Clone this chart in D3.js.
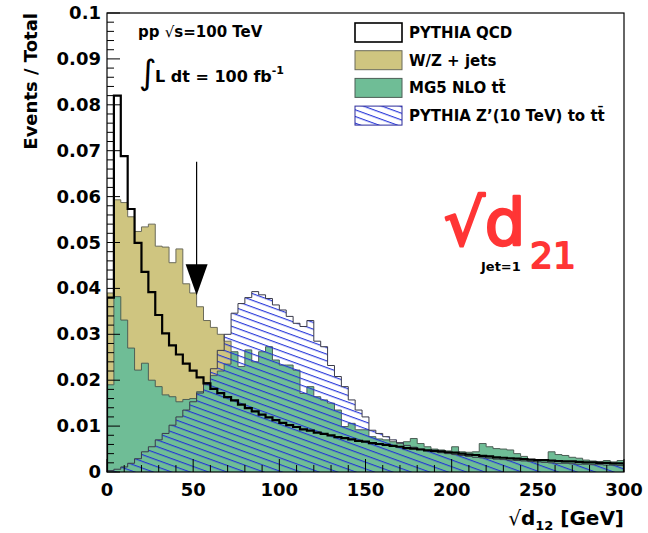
<!DOCTYPE html>
<html>
<head>
<meta charset="utf-8">
<script src="https://cdn.jsdelivr.net/npm/d3@7"></script>
<style>
  body { margin: 0; background: #fff; }
  svg { display: block; }
</style>
</head>
<body>
<svg id="chart" width="648" height="533" font-family="DejaVu Sans, sans-serif" font-weight="bold"></svg>
<script>
// 4 GeV bins from 0 to 300 GeV
var binWidth = 4;

var qcd = [0.0380,0.0820,0.0688,0.0573,0.0499,0.0436,0.0392,0.0342,0.0302,0.0276,
  0.0256,0.0236,0.0221,0.0206,0.0193,0.0181,0.0172,0.0163,0.0156,0.0147,
  0.0139,0.0132,0.0125,0.0119,0.0113,0.0107,0.0102,0.0098,0.0093,0.0090,
  0.0086,0.0083,0.0080,0.0076,0.0074,0.0071,0.0068,0.0066,0.0063,0.0061,
  0.0059,0.0057,0.0055,0.0052,0.0051,0.0049,0.0047,0.0046,0.0045,0.0043,
  0.0042,0.0040,0.0038,0.0037,0.0035,0.0034,0.0032,0.0031,0.0030,0.0029,
  0.0028,0.0027,0.0026,0.0026,0.0025,0.0024,0.0023,0.0023,0.0022,0.0021,
  0.0021,0.0020,0.0020,0.0019,0.0019];

var wz = [0.0390,0.0593,0.0587,0.0556,0.0524,0.0534,0.0540,0.0492,0.0490,0.0456,
  0.0486,0.0410,0.0390,0.0360,0.0330,0.0315,0.0300,0.0285,0.0220,0.0190,
  0.0170,0.0150,0.0130,0.0120,0.0110,0.0100,0.0090,0.0080,0.0075,0.0070,
  0.0065,0.0060,0.0056,0.0052,0.0048,0.0045,0.0042,0.0039,0.0036,0.0034,
  0.0032,0.0030,0.0028,0.0026,0.0025,0.0023,0.0022,0.0021,0.0020,0.0019,
  0.0018,0.0017,0.0016,0.0015,0.0015,0.0014,0.0013,0.0013,0.0012,0.0012,
  0.0011,0.0011,0.0010,0.0010,0.0010,0.0009,0.0009,0.0009,0.0008,0.0008,
  0.0008,0.0007,0.0007,0.0007,0.0007];

var ttbar = [0.0190,0.0382,0.0331,0.0270,0.0222,0.0237,0.0200,0.0186,0.0168,0.0164,
  0.0153,0.0158,0.0160,0.0175,0.0190,0.0210,0.0220,0.0235,0.0262,0.0230,
  0.0266,0.0240,0.0262,0.0273,0.0244,0.0233,0.0233,0.0222,0.0171,0.0186,
  0.0164,0.0157,0.0150,0.0135,0.0099,0.0106,0.0092,0.0092,0.0077,0.0072,
  0.0070,0.0066,0.0062,0.0066,0.0073,0.0062,0.0055,0.0050,0.0048,0.0046,
  0.0055,0.0044,0.0043,0.0044,0.0062,0.0055,0.0051,0.0050,0.0048,0.0040,
  0.0034,0.0027,0.0026,0.0026,0.0044,0.0038,0.0036,0.0032,0.0030,0.0026,
  0.0024,0.0023,0.0025,0.0022,0.0025];

var zprime = [0.0003,0.0006,0.0011,0.0019,0.0029,0.0044,0.0055,0.0070,0.0084,0.0102,
  0.0120,0.0135,0.0153,0.0172,0.0195,0.0225,0.0265,0.0300,0.0346,0.0367,
  0.0380,0.0393,0.0386,0.0378,0.0364,0.0353,0.0339,0.0324,0.0317,0.0330,
  0.0285,0.0273,0.0232,0.0208,0.0186,0.0157,0.0135,0.0120,0.0091,0.0084,
  0.0077,0.0070,0.0064,0.0058,0.0054,0.0050,0.0047,0.0044,0.0042,0.0040,
  0.0038,0.0036,0.0034,0.0032,0.0031,0.0030,0.0028,0.0027,0.0026,0.0025,
  0.0024,0.0023,0.0022,0.0021,0.0020,0.0019,0.0019,0.0018,0.0017,0.0017,
  0.0016,0.0016,0.0015,0.0015,0.0014];

var xTicks = [0, 50, 100, 150, 200, 250, 300];
var yTicks = [0, 0.01, 0.02, 0.03, 0.04, 0.05, 0.06, 0.07, 0.08, 0.09, 0.1];
var yTickLabels = ["0", "0.01", "0.02", "0.03", "0.04", "0.05", "0.06", "0.07", "0.08", "0.09", "0.1"];

var legendLabels = ["PYTHIA QCD", "W/Z + jets", "MG5 NLO t\u0074\u0304", "PYTHIA Z\u2019(10 TeV) to t\u0074\u0304"];

// arrow marking the cut value
var arrowX = 52, arrowTop = 0.0676, arrowTip = 0.0385;

var khaki = "#cfc580", green = "#6fbd96", hatchBlue = "#1f2fd8", red = "#ff3535";

var svg = d3.select("#chart");
var x = d3.scaleLinear().domain([0, 300]).range([107, 624]);
var y = d3.scaleLinear().domain([0, 0.1]).range([472, 13]);

var defs = svg.append("defs");
defs.append("clipPath").attr("id", "plotClip")
  .append("rect").attr("x", 107).attr("y", 13).attr("width", 517).attr("height", 459);

var pat = defs.append("pattern")
  .attr("id", "hatch")
  .attr("patternUnits", "userSpaceOnUse")
  .attr("width", 6.3).attr("height", 6.3)
  .attr("patternTransform", "rotate(20)");
pat.append("line")
  .attr("x1", -1).attr("y1", 0.6).attr("x2", 8).attr("y2", 0.6)
  .attr("stroke", hatchBlue).attr("stroke-width", 1.1);

function stepPoints(vals) {
  var pts = [[0, 0]];
  vals.forEach(function (v, i) { pts.push([i * binWidth, v]); });
  pts.push([vals.length * binWidth, vals[vals.length - 1]]);
  pts.push([vals.length * binWidth, 0]);
  return pts;
}

var stepLine = d3.line()
  .x(function (d) { return x(d[0]); })
  .y(function (d) { return y(d[1]); })
  .curve(d3.curveStepAfter);

var g = svg.append("g").attr("clip-path", "url(#plotClip)");

g.append("path").attr("d", stepLine(stepPoints(wz)))
  .attr("fill", khaki).attr("stroke", "#6b6b5a").attr("stroke-width", 1);
g.append("path").attr("d", stepLine(stepPoints(ttbar)))
  .attr("fill", green).attr("stroke", "#4d5f56").attr("stroke-width", 1);
g.append("path").attr("d", stepLine(stepPoints(zprime)))
  .attr("fill", "url(#hatch)").attr("stroke", "#3a3a4a").attr("stroke-width", 1);
g.append("path").attr("d", stepLine(stepPoints(qcd)))
  .attr("fill", "none").attr("stroke", "#000").attr("stroke-width", 2.2)
  .attr("stroke-linejoin", "miter");

// arrow
svg.append("line")
  .attr("x1", x(arrowX)).attr("x2", x(arrowX))
  .attr("y1", y(arrowTop)).attr("y2", y(arrowTip) - 20)
  .attr("stroke", "#000").attr("stroke-width", 1.2);
svg.append("path")
  .attr("d", "M" + (x(arrowX) - 11) + "," + (y(arrowTip) - 31) +
    "L" + (x(arrowX) + 11) + "," + (y(arrowTip) - 31) +
    "L" + x(arrowX) + "," + y(arrowTip) + "Z")
  .attr("fill", "#000");

// frame
svg.append("rect")
  .attr("x", 107).attr("y", 13).attr("width", 517).attr("height", 459)
  .attr("fill", "none").attr("stroke", "#000").attr("stroke-width", 1.2);

// ticks (inside the frame)
var xMinor = d3.range(0, 301, 10);
svg.append("g").selectAll("line").data(xMinor).enter().append("line")
  .attr("x1", function (d) { return x(d); }).attr("x2", function (d) { return x(d); })
  .attr("y1", y(0))
  .attr("y2", function (d) { return y(0) - (d % 50 === 0 ? 13 : 7); })
  .attr("stroke", "#000").attr("stroke-width", 1);

var yMinor = d3.range(0, 51).map(function (i) { return i * 0.002; });
svg.append("g").selectAll("line").data(yMinor).enter().append("line")
  .attr("x1", x(0))
  .attr("x2", function (d, i) { return x(0) + (i % 5 === 0 ? 13 : 7); })
  .attr("y1", function (d) { return y(d); }).attr("y2", function (d) { return y(d); })
  .attr("stroke", "#000").attr("stroke-width", 1);

// tick labels
svg.append("g").selectAll("text").data(xTicks).enter().append("text")
  .attr("x", function (d) { return x(d); })
  .attr("y", 496)
  .attr("text-anchor", "middle")
  .attr("font-size", "18px")
  .text(function (d) { return d; });

svg.append("g").selectAll("text").data(yTicks).enter().append("text")
  .attr("x", 101)
  .attr("y", function (d) { return y(d) + 6; })
  .attr("text-anchor", "end")
  .attr("font-size", "18px")
  .text(function (d, i) { return yTickLabels[i]; });

// axis titles
svg.append("text")
  .attr("transform", "translate(37,13) rotate(-90)")
  .attr("text-anchor", "end")
  .attr("font-size", "18px")
  .text("Events / Total");

var xt = svg.append("text")
  .attr("x", 624).attr("y", 525)
  .attr("text-anchor", "end")
  .attr("font-size", "20px");
xt.append("tspan").attr("font-weight", "normal").text("\u221A");
xt.append("tspan").text("d");
xt.append("tspan").attr("font-size", "13px").attr("dy", 5).text("12");
xt.append("tspan").attr("dy", -5).text(" [GeV]");

// top-left annotations
var t1 = svg.append("text").attr("x", 138).attr("y", 37).attr("font-size", "15px");
t1.append("tspan").text("pp ");
t1.append("tspan").attr("font-weight", "normal").text("\u221A");
t1.append("tspan").text("s=100 TeV");

svg.append("text").attr("x", 139).attr("y", 84)
  .attr("font-size", "34px").attr("font-weight", "normal")
  .text("\u222B");
var t2 = svg.append("text").attr("x", 155).attr("y", 82).attr("font-size", "16px");
t2.append("tspan").text("L dt =  100 fb");
t2.append("tspan").attr("font-size", "11px").attr("dy", -8).text("-1");

// legend
var legend = svg.append("g");
var legendFills = ["#fff", khaki, green, "url(#hatch)"];
var legendStrokes = ["#000", "#6b6b5a", "#4d5f56", "#2a2a9a"];
legendLabels.forEach(function (lab, i) {
  var ly = 23 + i * 27.7;
  legend.append("rect")
    .attr("x", 355).attr("y", ly).attr("width", 47).attr("height", 19)
    .attr("fill", legendFills[i]).attr("stroke", legendStrokes[i])
    .attr("stroke-width", i === 0 ? 1.6 : 1);
  legend.append("text")
    .attr("x", 409).attr("y", ly + 15)
    .attr("font-size", "15px")
    .text(lab);
});

// red hand-written annotation
svg.append("text")
  .attr("x", 444).attr("y", 245)
  .attr("font-size", "64px").attr("font-weight", "normal")
  .attr("fill", red).attr("stroke", red).attr("stroke-width", 2.6)
  .attr("stroke-linejoin", "round")
  .text("\u221Ad");
svg.append("text")
  .attr("x", 481).attr("y", 271)
  .attr("font-size", "13px")
  .attr("fill", "#000")
  .text("Jet=1");
svg.append("text")
  .attr("x", 530).attr("y", 268)
  .attr("font-size", "36px").attr("font-weight", "normal")
  .attr("fill", red).attr("stroke", red).attr("stroke-width", 1.8)
  .attr("stroke-linejoin", "round")
  .text("21");
</script>
</body>
</html>
